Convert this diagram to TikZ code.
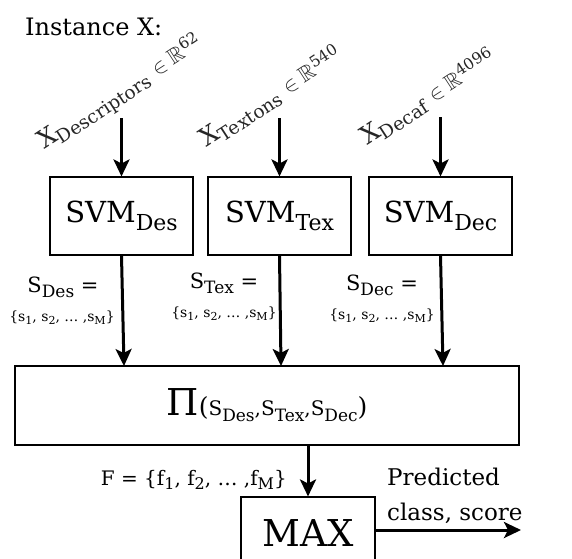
\documentclass[tikz,border=0pt]{standalone}
\usepackage{fontspec}
\setmainfont{DejaVu Serif}
\usepackage{amssymb}
\usetikzlibrary{arrows.meta}
\newcommand\fs[1]{\fontsize{#1}{#1}\selectfont}
\newcommand\lowr[3]{\raisebox{-#1}{\fs{#2}#3}}
\tikzset{
  box/.style={draw, line width=1.1pt, inner sep=0pt},
  arr/.style={-{Stealth[length=17pt,width=16pt,inset=4pt]}, line width=3pt},
  lbl/.style={inner sep=0pt},
  rlbl/.style={inner sep=0pt, rotate=33, anchor=base west, text=black!85},
}
\newcommand\setS{\fs{14}\{s\lowr{3pt}{11}{1}, s\lowr{3pt}{11}{2}, … ,s\lowr{3pt}{11}{M}\}}
\begin{document}
\begin{tikzpicture}[x=1pt,y=-1pt]
\clip (0,0) rectangle (572,558);
\node[lbl, anchor=base west] (title) at (25,35) {\fs{24}Instance X:};

% rotated input labels
\node[rlbl] (xA) at (44,150) {\fs{25}X\lowr{5pt}{18.5}{Descriptors} \fs{22}$\in\mathbb{R}$\raisebox{8pt}{\fs{15.5}62}};
\node[rlbl] (xB) at (206,148) {\fs{25}X\lowr{5pt}{18.5}{Textons} \fs{22}$\in\mathbb{R}$\raisebox{8pt}{\fs{15.5}540}};
\node[rlbl] (xC) at (367,146) {\fs{25}X\lowr{5pt}{18.5}{Decaf} \fs{22}$\in\mathbb{R}$\raisebox{8pt}{\fs{15.5}4096}};

% SVM boxes
\node[box, minimum width=143pt, minimum height=78pt] (svmA) at (121.5,216) {\fs{29}SVM\lowr{8pt}{22}{Des}};
\node[box, minimum width=143pt, minimum height=78pt] (svmB) at (279.5,216) {\fs{29}SVM\lowr{8pt}{22}{Tex}};
\node[box, minimum width=143pt, minimum height=78pt] (svmC) at (440.5,216) {\fs{29}SVM\lowr{8pt}{22}{Dec}};

% product box
\node[box, minimum width=504pt, minimum height=79pt] (prod) at (267,405.5)
  {\fs{37}Π\fs{25}(\fs{20}S\lowr{6pt}{17}{Des}\fs{20},S\lowr{6pt}{17}{Tex}\fs{20},S\lowr{6pt}{17}{Dec}\fs{25})};

% max box
\node[box, minimum width=134pt, minimum height=72pt] (max) at (308,533) {\fs{37}MAX};

% input arrows
\coordinate (inA) at (121.5,118);
\coordinate (inB) at (279.5,118);
\coordinate (inC) at (440.5,117);
\draw[arr] (inA) -- (svmA);
\draw[arr] (inB) -- (svmB);
\draw[arr] (inC) -- (svmC);

% svm to product
\coordinate (pA) at (124,366);
\coordinate (pB) at (281,366);
\coordinate (pC) at (443,366);
\draw[arr] (svmA.south) -- (pA);
\draw[arr] (svmB.south) -- (pB);
\draw[arr] (svmC.south) -- (pC);

% score labels
\node[lbl, anchor=base] (sA) at (63,292) {\fs{21}S\lowr{5pt}{17}{Des}\fs{21} =};
\node[lbl, anchor=base] (sB) at (224,288) {\fs{21}S\lowr{5pt}{17}{Tex}\fs{21} =};
\node[lbl, anchor=base] (sC) at (382,290) {\fs{21}S\lowr{5pt}{17}{Dec}\fs{21} =};
\node[lbl, anchor=base] (setA) at (62,321) {\setS};
\node[lbl, anchor=base] (setB) at (224,317) {\setS};
\node[lbl, anchor=base] (setC) at (382,319) {\setS};

% product to max
\draw[arr] (max |- prod.south) -- (max);
\node[lbl, anchor=base east] (F) at (287,485) {\fs{20}F = \{f\lowr{4pt}{16}{1}, f\lowr{4pt}{16}{2}, … ,f\lowr{4pt}{16}{M}\}};

% output
\coordinate (out) at (521,530);
\draw[arr] (max.east |- out) -- (out);
\node[lbl, anchor=base west] (pred) at (387,485) {\fs{23}Predicted};
\node[lbl, anchor=base west] (cls) at (387,520) {\fs{23}class, score};
\end{tikzpicture}
\end{document}
